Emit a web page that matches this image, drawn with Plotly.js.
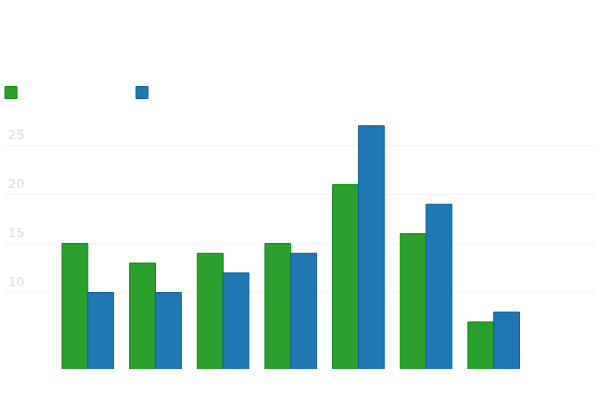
<!DOCTYPE html>
<html>
<head>
<meta charset="utf-8">
<script src="https://cdn.plot.ly/plotly-3.0.1.min.js"></script>
<style>html,body{margin:0;padding:0;background:#fff;}#chart{width:600px;height:411px;}</style>
</head>
<body>
<div id="chart"></div>
<script>
var categories = [0, 1, 2, 3, 4, 5, 6];
var seriesNames = ["Series A", "Series B"];
var greenValues = [15, 13, 14, 15, 21, 16, 7];
var blueValues = [10, 10, 12, 14, 27, 19, 8];
var tickValues = [10, 15, 20, 25];

var traces = [
  {type: "bar", name: seriesNames[0], x: categories, y: greenValues,
   marker: {color: "#2ca02c", line: {color: "#108a10", width: 1}}, hoverinfo: "none"},
  {type: "bar", name: seriesNames[1], x: categories, y: blueValues,
   marker: {color: "#1f77b4", line: {color: "#0d60a0", width: 1}}, hoverinfo: "none"}
];

var layout = {
  width: 600, height: 411,
  margin: {l: 5, r: 5, t: 116, b: 42, autoexpand: false},
  paper_bgcolor: "#ffffff", plot_bgcolor: "#ffffff",
  barmode: "group", bargap: 0.237, bargroupgap: 0,
  showlegend: true,
  legend: {orientation: "h", x: -0.0237, xanchor: "left", y: 1.0356, yanchor: "bottom",
           font: {color: "#ffffff", size: 12}, entrywidth: 86, entrywidthmode: "pixels"},
  xaxis: {range: [-1.224, 7.497], showticklabels: false, showgrid: false, zeroline: false,
          showline: false, ticks: ""},
  yaxis: {range: [2.2, 28], tickvals: tickValues, ticktext: tickValues.map(String),
          ticklabelposition: "inside top", ticklabelshift: -2,
          tickfont: {color: "#dddddd", size: 13, family: "DejaVu Sans"},
          showgrid: true, gridcolor: "#f4f4f4", gridwidth: 1, zeroline: false, showline: false, ticks: ""}
};

Plotly.newPlot("chart", traces, layout, {displayModeBar: false, staticPlot: true});
</script>
</body>
</html>
